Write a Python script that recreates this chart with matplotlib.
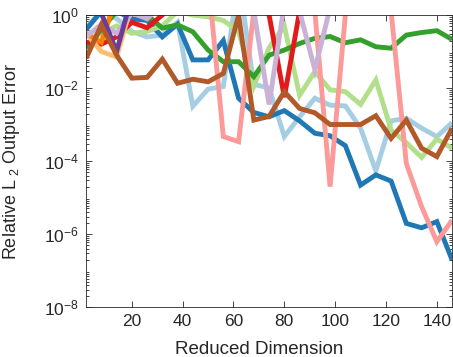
import numpy as np
import matplotlib
matplotlib.use("Agg")
import matplotlib.pyplot as plt
from matplotlib.ticker import LogLocator, NullFormatter

plt.rcParams['font.family'] = ['Liberation Sans', 'DejaVu Sans']
plt.rcParams['mathtext.fontset'] = 'custom'
plt.rcParams['mathtext.rm'] = 'Liberation Sans'

dims = list(range(2, 147, 6))

# log10 of relative error per series (values > 0 lie above the plotted range)
light_blue = [-0.35, 0.1, -0.1, -0.45, -0.6, -0.55, -0.2, -2.5, -2.03, -1.96, 1.0, -1.9, -2.0, -3.33, -2.79, -2.28, -2.47, -2.49, -3.1, -4.27, -2.9, -2.83, -3.1, -3.33, -2.95]
dark_blue = [-0.4, 0.1, 0.1, -0.1, -0.15, -0.6, -0.25, -1.23, -1.23, -0.7, -2.28, -2.67, -2.79, -2.62, -2.9, -3.24, -3.31, -3.58, -4.66, -4.38, -4.55, -5.71, -5.83, -5.66, -6.71]
light_green = [-0.8, -0.5, -0.3, -0.5, -0.45, -0.3, 0.1, 0.0, -0.05, -0.15, -0.45, -1.95, -0.9, -0.3, -2.2, -1.55, -2.05, -2.1, -2.45, -1.78, -3.15, -3.5, -3.9, -3.4, -3.65]
dark_green = [-0.9, -0.4, 0.1, 0.1, 0.0, -0.36, -0.27, -0.46, -0.96, -1.28, -1.28, -1.69, -1.10, -0.96, -0.78, -0.64, -0.59, -0.76, -0.68, -0.87, -0.91, -0.55, -0.48, -0.43, -0.67]
pink = [1.0, 1.0, 1.0, 1.0, 1.0, 1.0, 1.0, 1.0, 1.0, -3.33, -3.47, 0.1, 1.0, 1.0, 1.0, 0.1, -4.70, 0.0, 1.0, 1.0, 0.1, -4.07, -5.25, -6.21, -5.62]
red = [-0.75, -0.8, -0.6, -0.2, -0.35, 0.0, 1.0, 1.0, 1.0, 1.0, 1.0, 1.0, 0.0, -2.25, 0.1, 1.0, 1.0, 1.0, 1.0, 1.0, 1.0, 1.0, 1.0, 1.0, 1.0]
light_orange = [-0.5, -1.0, -1.15, 0.3, 1.0, 1.0, 1.0, 1.0, 1.0, 1.0, 1.0, 1.0, 1.0, 1.0, 1.0, 1.0, 1.0, 1.0, 1.0, 1.0, 1.0, 1.0, 1.0, 1.0, 1.0]
orange = [-0.5, -0.75, 0.5, 0.3, -0.1, 0.3, 1.0, 1.0, 1.0, 1.0, 1.0, 1.0, 1.0, 1.0, 1.0, 1.0, 1.0, 1.0, 1.0, 1.0, 1.0, 1.0, 1.0, 1.0, 1.0]
lavender = [-0.6, -0.25, -0.5, 0.05, -0.1, 0.3, 1.0, 1.0, 1.0, 1.0, 1.0, 0.1, -2.45, 0.3, 0.1, -1.5, 0.2, 1.0, 1.0, 1.0, 1.0, 1.0, 1.0, 1.0, 1.0]
purple = [0.3, 0.05, -1.0, 0.5, 1.0, 1.0, 1.0, 1.0, 1.0, 1.0, 1.0, 1.0, 1.0, 1.0, 1.0, 1.0, 1.0, 1.0, 1.0, 1.0, 1.0, 1.0, 1.0, 1.0, 1.0]
brown = [-1.19, -0.27, -1.10, -1.73, -1.71, -1.21, -1.87, -1.76, -1.83, -1.60, 0.0, -2.88, -2.78, -2.10, -2.56, -2.68, -3.0, -3.0, -3.0, -2.76, -3.38, -2.88, -3.65, -3.88, -3.10]

series = [
    (light_blue, '#a6cee3'),
    (dark_blue, '#1f78b4'),
    (light_green, '#b2df8a'),
    (dark_green, '#33a02c'),
    (pink, '#fb9a99'),
    (red, '#e31a1c'),
    (light_orange, '#fdbf6f'),
    (orange, '#ff7f00'),
    (lavender, '#cab2d6'),
    (purple, '#6a3d9a'),
    (brown, '#b15928'),
]

fig = plt.figure(figsize=(4.53, 3.57), dpi=100)
ax = fig.add_axes([0.19, 0.14, 0.808, 0.818])

for vals, col in series:
    ax.semilogy(dims, 10.0 ** np.array(vals), color=col, linewidth=3.5,
                solid_joinstyle='miter', solid_capstyle='butt')

ax.set_xlim(2, 146)
ax.set_ylim(1e-8, 1e0)
ax.set_xticks([20, 40, 60, 80, 100, 120, 140])
ax.set_yticks([1e-8, 1e-6, 1e-4, 1e-2, 1e0])
ax.yaxis.set_minor_locator(LogLocator(base=10, subs=np.arange(2, 10), numticks=20))
ax.yaxis.set_minor_formatter(NullFormatter())

ax.tick_params(which='both', direction='in', top=True, right=True,
               labelsize=12.5, colors='#262626', width=0.6)
ax.tick_params(which='major', length=4, pad=5)
ax.tick_params(which='minor', length=2.2)
for s in ax.spines.values():
    s.set_linewidth(0.6)
    s.set_color('#262626')

ax.set_xlabel('Reduced Dimension', fontsize=13.5, color='#262626')
ax.xaxis.set_label_coords(0.473, -0.115)
ax.set_ylabel('Relative L$_{\\ 2}$ Output Error', fontsize=13, color='#262626')
ax.yaxis.set_label_coords(-0.175, 0.5)

fig.savefig('out.png', dpi=100)
